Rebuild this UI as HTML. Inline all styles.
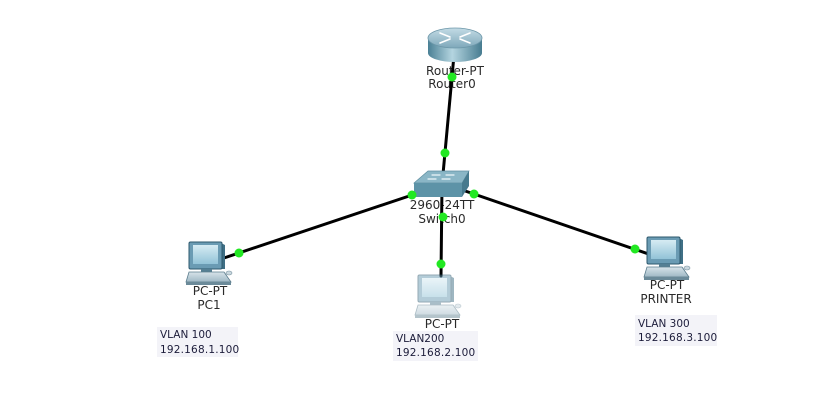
<!DOCTYPE html>
<html>
<head>
<meta charset="utf-8">
<style>
html,body{margin:0;padding:0;background:#fff;}
svg{display:block;}
.lbl{font-family:"DejaVu Sans","Liberation Sans",sans-serif;font-size:12px;fill:#2a2a2a;}
.box{font-family:"DejaVu Sans","Liberation Sans",sans-serif;font-size:10.5px;fill:#1c1c3a;}
</style>
</head>
<body>
<svg width="837" height="403" viewBox="0 0 837 403" xmlns="http://www.w3.org/2000/svg">
<defs>
  <linearGradient id="rtop" x1="0" y1="0" x2="0" y2="1">
    <stop offset="0" stop-color="#c3dbe5"/>
    <stop offset="1" stop-color="#7ea8ba"/>
  </linearGradient>
  <linearGradient id="rside" x1="0" y1="0" x2="1" y2="0">
    <stop offset="0" stop-color="#4a8095"/>
    <stop offset="0.45" stop-color="#b4d5e0"/>
    <stop offset="1" stop-color="#477c90"/>
  </linearGradient>
  <linearGradient id="scr" x1="0" y1="0" x2="0" y2="1">
    <stop offset="0" stop-color="#d6ebf3"/>
    <stop offset="1" stop-color="#92c3d7"/>
  </linearGradient>
  <linearGradient id="kb" x1="0" y1="0" x2="0" y2="1">
    <stop offset="0" stop-color="#d8e4ea"/>
    <stop offset="1" stop-color="#9fb8c4"/>
  </linearGradient>
</defs>

<!-- labels -->
<text class="lbl" x="455" y="75" text-anchor="middle">Router-PT</text>
<text class="lbl" x="452" y="88" text-anchor="middle">Router0</text>
<text class="lbl" x="442" y="209" text-anchor="middle">2960-24TT</text>
<text class="lbl" x="442" y="223" text-anchor="middle">Switch0</text>
<text class="lbl" x="210" y="295" text-anchor="middle">PC-PT</text>
<text class="lbl" x="209" y="309" text-anchor="middle">PC1</text>
<text class="lbl" x="442" y="328" text-anchor="middle">PC-PT</text>
<text class="lbl" x="667" y="289" text-anchor="middle">PC-PT</text>
<text class="lbl" x="666" y="303" text-anchor="middle">PRINTER</text>

<!-- info boxes -->
<rect x="157" y="327" width="81" height="30" fill="#f3f3f8"/>
<text class="box" x="160" y="338">VLAN 100</text>
<text class="box" x="160" y="353" letter-spacing="0.2">192.168.1.100</text>

<rect x="393" y="331" width="85" height="30" fill="#f3f3f8"/>
<text class="box" x="396" y="342">VLAN200</text>
<text class="box" x="396" y="356" letter-spacing="0.2">192.168.2.100</text>

<rect x="635" y="315" width="82" height="31" fill="#f3f3f8"/>
<text class="box" x="638" y="327">VLAN 300</text>
<text class="box" x="638" y="341" letter-spacing="0.2">192.168.3.100</text>

<!-- links -->
<g stroke="#000" stroke-width="3" stroke-linecap="round">
  <line x1="454" y1="55" x2="442" y2="185"/>
  <line x1="209" y1="263" x2="442" y2="185"/>
  <line x1="666" y1="260" x2="442" y2="183"/>
  <line x1="442" y1="185" x2="441" y2="276"/>
</g>

<!-- router -->
<g>
  <path d="M428 38 L428 53 A27 9 0 0 0 482 53 L482 38 Z" fill="url(#rside)"/>
  <ellipse cx="455" cy="38" rx="27" ry="10" fill="url(#rtop)" stroke="#6d97a9" stroke-width="0.8"/>
  <g stroke="#fff" stroke-width="1.6" fill="none" stroke-linecap="round">
    <line x1="440" y1="33" x2="450" y2="37"/>
    <line x1="460" y1="39" x2="470" y2="43"/>
    <line x1="470" y1="33" x2="460" y2="37"/>
    <line x1="450" y1="39" x2="440" y2="43"/>
  </g>
</g>

<!-- switch -->
<g>
  <polygon points="428,171 469,171 462,183 414,183" fill="#8ab6c6" stroke="#5f8fa1" stroke-width="0.7"/>
  <polygon points="414,183 462,183 462,197 414,197" fill="#5d93a7"/>
  <polygon points="462,183 469,171 469,186 462,197" fill="#467a8e"/>
  <g stroke="#eef6f9" stroke-width="1.2" stroke-linecap="round">
    <line x1="432" y1="175" x2="440" y2="175"/>
    <line x1="446" y1="175" x2="454" y2="175"/>
    <line x1="428" y1="179" x2="436" y2="179"/>
    <line x1="442" y1="179" x2="450" y2="179"/>
  </g>
</g>

<!-- PC1 -->
<g transform="translate(186,242)">
  <polygon points="35,1 39,3 39,27 35,27" fill="#3f6f85"/>
  <rect x="3" y="0" width="33" height="27" rx="1.5" fill="#6a9bb3" stroke="#2d586d" stroke-width="1"/>
  <rect x="7" y="3" width="25" height="19" fill="url(#scr)"/>
  <rect x="15" y="27" width="11" height="3" fill="#557f93"/>
  <polygon points="3,30 38,30 45,40 0,40" fill="url(#kb)" stroke="#5b7c8c" stroke-width="0.8"/>
  <rect x="0" y="40" width="45" height="3" fill="#6b8a99"/>
  <ellipse cx="43" cy="31" rx="3" ry="2" fill="#c9d7de" stroke="#7b95a2" stroke-width="0.6"/>
</g>

<!-- center PC (faded) -->
<g transform="translate(415,275)" opacity="0.5">
  <polygon points="35,1 39,3 39,27 35,27" fill="#3f6f85"/>
  <rect x="3" y="0" width="33" height="27" rx="1.5" fill="#6a9bb3" stroke="#2d586d" stroke-width="1"/>
  <rect x="7" y="3" width="25" height="19" fill="url(#scr)"/>
  <rect x="15" y="27" width="11" height="3" fill="#557f93"/>
  <polygon points="3,30 38,30 45,40 0,40" fill="url(#kb)" stroke="#5b7c8c" stroke-width="0.8"/>
  <rect x="0" y="40" width="45" height="3" fill="#6b8a99"/>
  <ellipse cx="43" cy="31" rx="3" ry="2" fill="#c9d7de" stroke="#7b95a2" stroke-width="0.6"/>
</g>

<!-- PRINTER PC -->
<g transform="translate(644,237)">
  <polygon points="35,1 39,3 39,27 35,27" fill="#3f6f85"/>
  <rect x="3" y="0" width="33" height="27" rx="1.5" fill="#6a9bb3" stroke="#2d586d" stroke-width="1"/>
  <rect x="7" y="3" width="25" height="19" fill="url(#scr)"/>
  <rect x="15" y="27" width="11" height="3" fill="#557f93"/>
  <polygon points="3,30 38,30 45,40 0,40" fill="url(#kb)" stroke="#5b7c8c" stroke-width="0.8"/>
  <rect x="0" y="40" width="45" height="3" fill="#6b8a99"/>
  <ellipse cx="43" cy="31" rx="3" ry="2" fill="#c9d7de" stroke="#7b95a2" stroke-width="0.6"/>
</g>

<!-- link lights -->
<g fill="#22e822">
  <circle cx="452" cy="77" r="4.5"/>
  <circle cx="445" cy="153" r="4.5"/>
  <circle cx="412" cy="195" r="4.5"/>
  <circle cx="474" cy="194" r="4.5"/>
  <circle cx="443" cy="217" r="4.5"/>
  <circle cx="441" cy="264" r="4.5"/>
  <circle cx="239" cy="253" r="4.5"/>
  <circle cx="635" cy="249" r="4.5"/>
</g>
</svg>
</body>
</html>
